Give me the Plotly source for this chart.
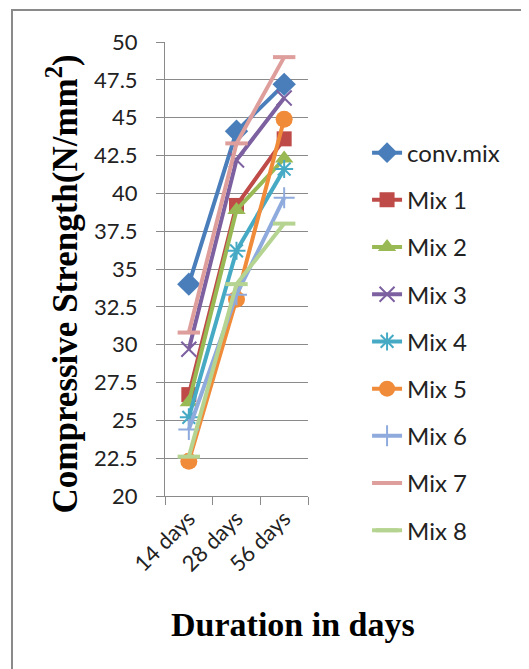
import plotly.graph_objects as go

categories = ["14 days", "28 days", "56 days"]
series_names = ["conv.mix", "Mix 1", "Mix 2", "Mix 3", "Mix 4", "Mix 5", "Mix 6", "Mix 7", "Mix 8"]
conv_mix = [34.0, 44.1, 47.2]
mix1 = [26.7, 39.2, 43.6]
mix2 = [26.2, 38.9, 42.3]
mix3 = [29.7, 42.2, 46.3]
mix4 = [25.2, 36.2, 41.6]
mix5 = [22.3, 33.0, 44.9]
mix6 = [24.4, 33.3, 39.7]
mix7 = [30.8, 43.3, 49.0]
mix8 = [22.6, 34.0, 38.0]
y_ticks = [20, 22.5, 25, 27.5, 30, 32.5, 35, 37.5, 40, 42.5, 45, 47.5, 50]

values = [conv_mix, mix1, mix2, mix3, mix4, mix5, mix6, mix7, mix8]
colors = ["#4A7EBB", "#BE4B48", "#98B954", "#7D60A0", "#46AAC5", "#F08B3A",
          "#8FAADC", "#DE9E9C", "#B6D491"]
styles = [
    dict(symbol="diamond", size=18),
    dict(symbol="square", size=15),
    dict(symbol="triangle-up", size=16),
    dict(symbol="x-thin-open", size=15, line=dict(width=2)),
    dict(symbol="asterisk-open", size=15, line=dict(width=2)),
    dict(symbol="circle", size=17),
    dict(symbol="cross-thin-open", size=15, line=dict(width=2)),
    dict(symbol="line-ew-open", size=16, line=dict(width=4)),
    dict(symbol="line-ew-open", size=16, line=dict(width=4)),
]

fig = go.Figure()
for i, (name, vals) in enumerate(zip(series_names, values)):
    m = dict(styles[i])
    m["color"] = colors[i]
    if "line" in m:
        m["line"] = dict(m["line"], color=colors[i])
    fig.add_trace(go.Scatter(
        x=categories, y=vals, name=name, mode="lines+markers",
        line=dict(color=colors[i], width=4),
        marker=m, legendgroup=name,
    ))

fig.update_layout(
    width=529, height=669,
    margin=dict(l=157, r=229, t=34, b=181),
    paper_bgcolor="white", plot_bgcolor="white",
    font=dict(family="Lato, Open Sans, sans-serif", size=22, color="#222"),
    showlegend=True,
    legend=dict(x=1.413, y=0.805, xanchor="left", yanchor="top",
                traceorder="grouped", tracegroupgap=13,
                font=dict(size=24, family="Lato, sans-serif", color="#222"),
                bgcolor="rgba(0,0,0,0)"),
    xaxis=dict(type="category", showgrid=False, showline=True,
               linecolor="#8A8A8A", linewidth=1, ticks="outside",
               tickson="boundaries", ticklen=8, tickcolor="#8A8A8A",
               tickangle=-45, tickfont=dict(size=22), range=[-0.5, 2.5]),
    yaxis=dict(range=[20, 50], tickvals=y_ticks,
               ticktext=[f"{t:g}" for t in y_ticks],
               showgrid=True, gridcolor="#8A8A8A", gridwidth=1,
               showline=True, linecolor="#8A8A8A", ticks="outside",
               ticklen=8, tickcolor="#8A8A8A", tickfont=dict(size=22),
               ticklabelstandoff=14, zeroline=False),
    annotations=[
        dict(text="<b>Compressive Strength(N/mm<sup>2</sup>)</b>", xref="paper", yref="paper",
             x=-0.71, y=0.467, textangle=-90, showarrow=False,
             font=dict(family="Liberation Serif, Times New Roman, serif", size=35, color="black"),
             xanchor="center", yanchor="middle"),
        dict(text="<b>Duration in days</b>", xref="paper", yref="paper",
             x=0.892, y=-0.282, showarrow=False,
             font=dict(family="Liberation Serif, Times New Roman, serif", size=34, color="black"),
             xanchor="center", yanchor="middle"),
    ],
    shapes=[dict(type="rect", xref="paper", yref="paper",
                 x0=-1.07, x1=3.0, y0=-0.6, y1=1.0705,
                 line=dict(color="#8A8A8A", width=2))],
)

fig.write_html("out.html")
